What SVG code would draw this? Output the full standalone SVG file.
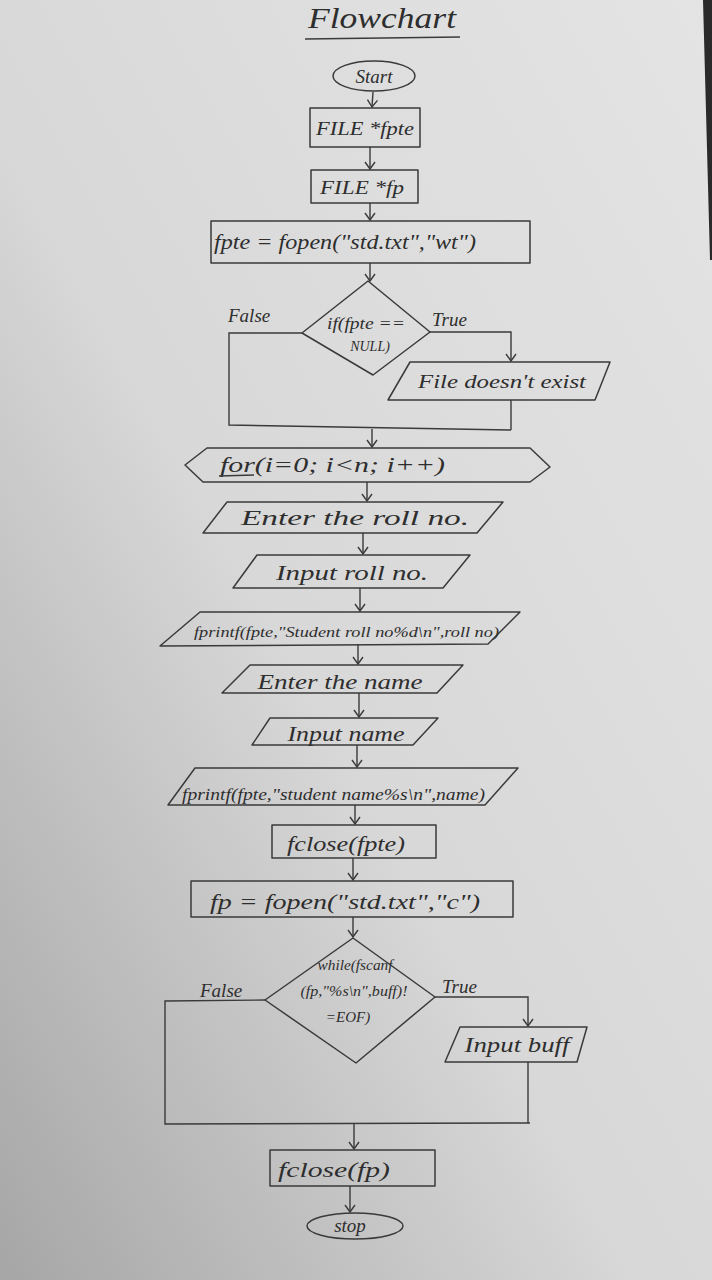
<svg xmlns="http://www.w3.org/2000/svg" width="712" height="1280" viewBox="0 0 712 1280">
<defs>
<linearGradient id="paper" x1="1" y1="0" x2="0" y2="1">
<stop offset="0" stop-color="#e4e4e4"/>
<stop offset="0.55" stop-color="#d8d8d8"/>
<stop offset="1" stop-color="#a6a6a6"/>
</linearGradient>
<marker id="arr" viewBox="0 0 12 12" refX="11" refY="6" markerWidth="12" markerHeight="12" markerUnits="userSpaceOnUse" orient="auto">
<polyline points="4,1 11,6 4,11" fill="none" stroke="#3a3a3a" stroke-width="1.4"/>
</marker>
</defs>
<style>
.s{fill:none;stroke:#3a3a3a;stroke-width:1.5;stroke-linejoin:round}
.c{fill:none;stroke:#3a3a3a;stroke-width:1.4}
.t{font-family:"Liberation Serif","DejaVu Serif",serif;font-style:italic;fill:#2e2e2e;font-size:17px}
.m{text-anchor:middle}
</style>
<rect width="712" height="1280" fill="url(#paper)"/>
<polygon points="703,0 712,0 712,260 710,260" fill="#2a2a2a"/>

<g id="title">
<text class="t m" x="382" y="28" style="font-size:30px" textLength="148" lengthAdjust="spacingAndGlyphs">Flowchart</text>
<line class="s" x1="305" y1="39" x2="460" y2="37"/>
</g>

<g id="connectors">
<line class="c" x1="373" y1="92" x2="372" y2="107" marker-end="url(#arr)"/>
<line class="c" x1="370" y1="147" x2="370" y2="169" marker-end="url(#arr)"/>
<line class="c" x1="370" y1="203" x2="370" y2="220" marker-end="url(#arr)"/>
<line class="c" x1="370" y1="263" x2="370" y2="281" marker-end="url(#arr)"/>
<polyline class="c" points="302,333 229,333 229,425 511,430"/>
<polyline class="c" points="430,332 511,332 511,361" marker-end="url(#arr)"/>
<line class="c" x1="511" y1="400" x2="511" y2="430"/>
<line class="c" x1="372" y1="429" x2="372" y2="447" marker-end="url(#arr)"/>
<line class="c" x1="367" y1="482" x2="367" y2="501" marker-end="url(#arr)"/>
<line class="c" x1="363" y1="533" x2="363" y2="554" marker-end="url(#arr)"/>
<line class="c" x1="360" y1="588" x2="360" y2="611" marker-end="url(#arr)"/>
<line class="c" x1="358" y1="644" x2="358" y2="664" marker-end="url(#arr)"/>
<line class="c" x1="359" y1="693" x2="359" y2="717" marker-end="url(#arr)"/>
<line class="c" x1="357" y1="745" x2="357" y2="767" marker-end="url(#arr)"/>
<line class="c" x1="355" y1="805" x2="355" y2="824" marker-end="url(#arr)"/>
<line class="c" x1="353" y1="858" x2="353" y2="880" marker-end="url(#arr)"/>
<line class="c" x1="353" y1="917" x2="353" y2="937" marker-end="url(#arr)"/>
<polyline class="c" points="265,1000 165,1001 165,1124 530,1123"/>
<polyline class="c" points="435,997 528,997 528,1026" marker-end="url(#arr)"/>
<line class="c" x1="528" y1="1062" x2="528" y2="1123"/>
<line class="c" x1="354" y1="1124" x2="354" y2="1149" marker-end="url(#arr)"/>
<line class="c" x1="350" y1="1186" x2="350" y2="1212" marker-end="url(#arr)"/>
<text class="t" x="228" y="322" style="font-size:19px">False</text>
<text class="t" x="432" y="326" style="font-size:19px">True</text>
<text class="t" x="200" y="997" style="font-size:19px">False</text>
<text class="t" x="442" y="993" style="font-size:19px">True</text>
</g>

<g id="start">
<ellipse class="s" cx="374" cy="76" rx="41" ry="15"/>
<text class="t m" x="374" y="83" style="font-size:19px">Start</text>
</g>

<g id="decl-fpte">
<rect class="s" x="310" y="108" width="110" height="39"/>
<text class="t m" x="365" y="135" style="font-size:18px" textLength="98" lengthAdjust="spacingAndGlyphs">FILE *fpte</text>
</g>

<g id="decl-fp">
<rect class="s" x="311" y="170" width="107" height="33"/>
<text class="t m" x="362" y="194" style="font-size:18px" textLength="84" lengthAdjust="spacingAndGlyphs">FILE *fp</text>
</g>

<g id="open-write">
<rect class="s" x="211" y="221" width="319" height="42"/>
<text class="t" x="214" y="249" style="font-size:20px" textLength="262" lengthAdjust="spacingAndGlyphs">fpte = fopen("std.txt","wt")</text>
</g>

<g id="if-null">
<polygon class="s" points="368,281 430,332 373,375 302,333"/>
<text class="t m" x="366" y="329" style="font-size:16px" textLength="78" lengthAdjust="spacingAndGlyphs">if(fpte ==</text>
<text class="t m" x="370" y="351" style="font-size:14px">NULL)</text>
</g>

<g id="file-not-exist">
<polygon class="s" points="410,362 610,362 595,400 388,400"/>
<text class="t m" x="502" y="388" style="font-size:19px" textLength="168" lengthAdjust="spacingAndGlyphs">File doesn't exist</text>
</g>

<g id="for-loop">
<polygon class="s" points="207,448 530,448 550,467 530,482 203,482 185,465"/>
<text class="t" x="220" y="472" style="font-size:20px" textLength="225" lengthAdjust="spacingAndGlyphs">for(i=0; i&lt;n; i++)</text>
<line class="s" x1="219" y1="476" x2="254" y2="475"/>
</g>

<g id="enter-roll">
<polygon class="s" points="227,502 503,502 477,533 203,533"/>
<text class="t m" x="355" y="525" style="font-size:20px" textLength="228" lengthAdjust="spacingAndGlyphs">Enter the roll no.</text>
</g>

<g id="input-roll">
<polygon class="s" points="257,555 470,555 443,588 233,588"/>
<text class="t m" x="352" y="580" style="font-size:20px" textLength="152" lengthAdjust="spacingAndGlyphs">Input roll no.</text>
</g>

<g id="fprintf-roll">
<polygon class="s" points="200,612 520,612 488,644 160,646"/>
<text class="t" x="194" y="637" style="font-size:15px" textLength="305" lengthAdjust="spacingAndGlyphs">fprintf(fpte,"Student roll no%d\n",roll no)</text>
</g>

<g id="enter-name">
<polygon class="s" points="250,665 463,665 437,693 222,693"/>
<text class="t m" x="340" y="689" style="font-size:20px" textLength="165" lengthAdjust="spacingAndGlyphs">Enter the name</text>
</g>

<g id="input-name">
<polygon class="s" points="270,718 438,718 413,745 252,745"/>
<text class="t m" x="346" y="741" style="font-size:20px" textLength="117" lengthAdjust="spacingAndGlyphs">Input name</text>
</g>

<g id="fprintf-name">
<polygon class="s" points="195,768 518,768 485,805 168,805"/>
<text class="t" x="182" y="800" style="font-size:16px" textLength="303" lengthAdjust="spacingAndGlyphs">fprintf(fpte,"student name%s\n",name)</text>
</g>

<g id="fclose-fpte">
<rect class="s" x="272" y="825" width="164" height="33"/>
<text class="t m" x="346" y="851" style="font-size:20px" textLength="118" lengthAdjust="spacingAndGlyphs">fclose(fpte)</text>
</g>

<g id="open-read">
<rect class="s" x="191" y="881" width="322" height="36"/>
<text class="t m" x="345" y="909" style="font-size:20px" textLength="270" lengthAdjust="spacingAndGlyphs">fp = fopen("std.txt","c")</text>
</g>

<g id="while-fscanf">
<polygon class="s" points="353,938 435,997 356,1063 265,1000"/>
<text class="t m" x="355" y="970" style="font-size:14px" textLength="75" lengthAdjust="spacingAndGlyphs">while(fscanf</text>
<text class="t m" x="354" y="996" style="font-size:14px" textLength="107" lengthAdjust="spacingAndGlyphs">(fp,"%s\n",buff)!</text>
<text class="t m" x="348" y="1022" style="font-size:15px">=EOF)</text>
</g>

<g id="input-buff">
<polygon class="s" points="460,1027 587,1027 577,1062 445,1062"/>
<text class="t m" x="517" y="1052" style="font-size:20px" textLength="105" lengthAdjust="spacingAndGlyphs">Input buff</text>
</g>

<g id="fclose-fp">
<rect class="s" x="270" y="1150" width="165" height="36"/>
<text class="t m" x="334" y="1177" style="font-size:20px" textLength="112" lengthAdjust="spacingAndGlyphs">fclose(fp)</text>
</g>

<g id="stop">
<ellipse class="s" cx="355" cy="1226" rx="48" ry="13"/>
<text class="t m" x="350" y="1232" style="font-size:19px">stop</text>
</g>
</svg>
